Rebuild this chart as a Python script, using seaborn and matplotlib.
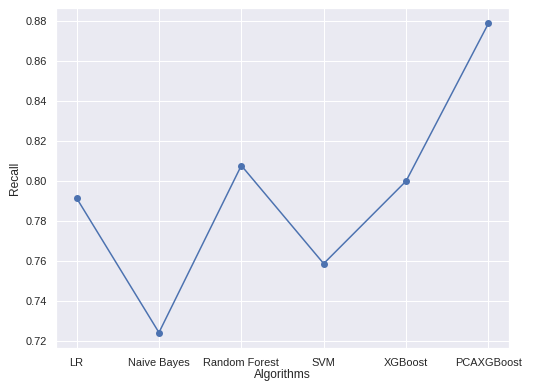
import matplotlib
matplotlib.use('Agg')
import matplotlib.pyplot as plt
import seaborn as sns
import pandas as pd

algorithms = ["LR", "Naive Bayes", "Random Forest", "SVM", "XGBoost", "PCAXGBoost"]
recall = [0.7915, 0.7242, 0.8078, 0.7587, 0.8000, 0.8789]

sns.set_theme()
plt.rcParams['font.family'] = ['Liberation Sans', 'DejaVu Sans']
df = pd.DataFrame({"Algorithms": algorithms, "Recall": recall})

fig = plt.figure(figsize=(536 / 72, 382 / 72), dpi=72)
ax = fig.add_subplot(111)
sns.lineplot(data=df, x="Algorithms", y="Recall", marker="o", sort=False,
             markeredgewidth=0, markersize=7, ax=ax)
ax.set_xlabel("Algorithms", labelpad=1)
fig.subplots_adjust(left=0.1045, right=0.9496, top=0.979, bottom=0.089)
fig.savefig("out.png", dpi=72)
